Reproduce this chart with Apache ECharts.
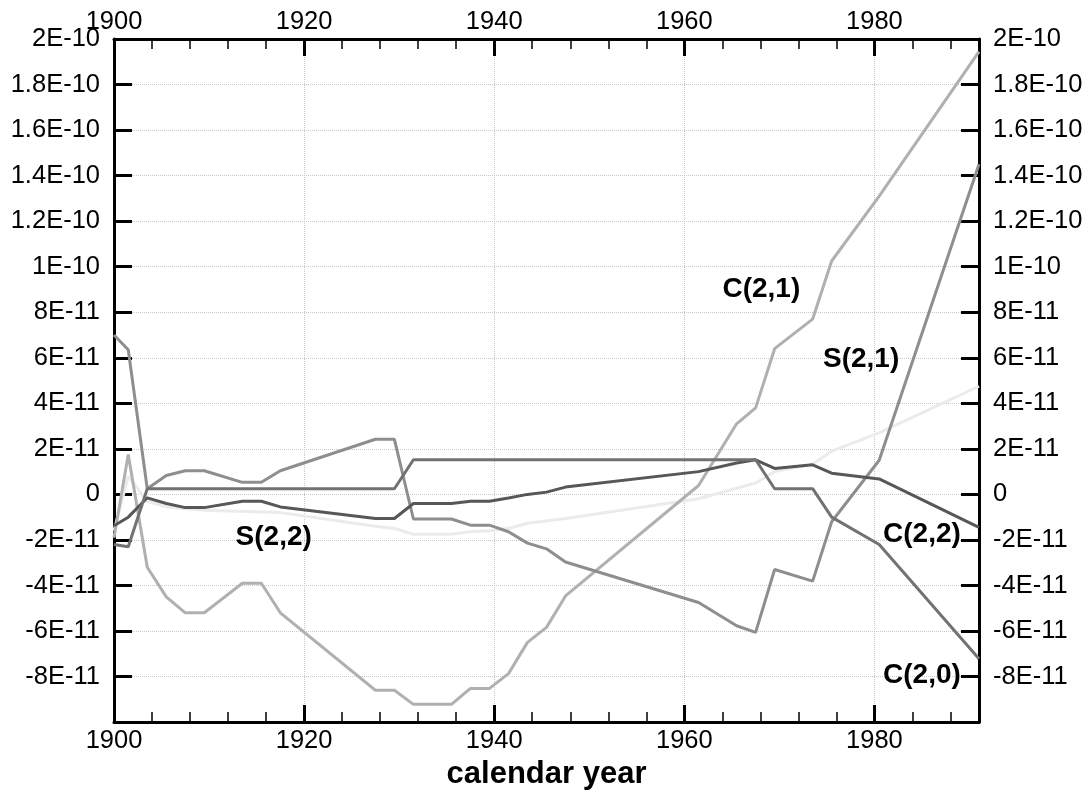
<!DOCTYPE html>
<html><head><meta charset="utf-8">
<script src="https://cdn.jsdelivr.net/npm/echarts@6/dist/echarts.min.js"></script>
<style>html,body{margin:0;padding:0;background:#fff}#c{width:1091px;height:795px}</style>
</head><body><div id="c"></div>
<script>
// All values are in units of 1E-11
const c20Years  = [1900, 1901.5, 1903.5, 1929.5, 1931.5, 1967.5, 1969.5, 1973.5, 1975.5, 1980.5, 1991];
const c20Values = [-2.2, -2.3, 0.25, 0.25, 1.52, 1.52, 0.25, 0.25, -1.0, -2.2, -7.22];

const c21Years  = [1900, 1901.5, 1903.5, 1905.5, 1907.5, 1909.5, 1913.5, 1915.5, 1917.5, 1927.5, 1929.5, 1931.5, 1935.5, 1937.5, 1939.5, 1941.5, 1943.5, 1945.5, 1947.5, 1961.5, 1965.5, 1967.5, 1969.5, 1973.5, 1975.5, 1980.5, 1991];
const c21Values = [-1.9, 1.75, -3.2, -4.5, -5.2, -5.2, -3.9, -3.9, -5.2, -8.6, -8.6, -9.22, -9.22, -8.52, -8.52, -7.87, -6.5, -5.84, -4.46, 0.39, 3.1, 3.8, 6.4, 7.7, 10.25, 13.1, 19.45];

const c22Years  = [1900, 1901.5, 1903.5, 1905.5, 1907.5, 1909.5, 1913.5, 1915.5, 1917.5, 1927.5, 1929.5, 1931.5, 1935.5, 1937.5, 1939.5, 1941.5, 1943.5, 1945.5, 1947.5, 1961.5, 1965.5, 1967.5, 1969.5, 1973.5, 1975.5, 1980.5, 1991];
const c22Values = [-1.38, -1.0, -0.15, -0.4, -0.58, -0.58, -0.3, -0.3, -0.55, -1.06, -1.06, -0.4, -0.4, -0.3, -0.3, -0.16, 0.0, 0.1, 0.32, 1.0, 1.38, 1.52, 1.14, 1.3, 0.93, 0.68, -1.45];

const s21Years  = [1900, 1901.5, 1903.5, 1905.5, 1907.5, 1909.5, 1913.5, 1915.5, 1917.5, 1927.5, 1929.5, 1931.5, 1935.5, 1937.5, 1939.5, 1941.5, 1943.5, 1945.5, 1947.5, 1961.5, 1965.5, 1967.5, 1969.5, 1973.5, 1975.5, 1980.5, 1991];
const s21Values = [7.0, 6.35, 0.25, 0.83, 1.04, 1.04, 0.53, 0.53, 1.04, 2.42, 2.42, -1.08, -1.08, -1.35, -1.35, -1.64, -2.14, -2.39, -2.97, -4.75, -5.77, -6.06, -3.3, -3.81, -1.2, 1.5, 14.5];

const s22Years  = [1900, 1901.5, 1903.5, 1905.5, 1909.5, 1917.5, 1927.5, 1929.5, 1931.5, 1935.5, 1937.5, 1939.5, 1941.5, 1943.5, 1947.5, 1961.5, 1967.5, 1969.5, 1973.5, 1975.5, 1980.5, 1991];
const s22Values = [-1.6, 0.8, -0.3, -0.55, -0.7, -0.8, -1.4, -1.5, -1.75, -1.75, -1.64, -1.6, -1.5, -1.27, -1.06, -0.19, 0.5, 1.0, 1.33, 1.9, 2.7, 4.75];

const seriesNames  = ['C(2,0)', 'C(2,1)', 'C(2,2)', 'S(2,1)', 'S(2,2)'];
const annotationNames  = ['C(2,1)', 'S(2,1)', 'C(2,2)', 'C(2,0)', 'S(2,2)'];
const annotationYears  = [1968.1, 1978.6, 1985.0, 1985.0, 1916.8];
const annotationValues = [9.0, 5.93, -1.74, -7.93, -1.89];

const xAxisTitle = 'calendar year';
const xMin = 1900, xMax = 1991, xStep = 20;
const yMin = -10, yMax = 20, yStep = 2;

function pairs(xs, ys) { return xs.map((x, i) => [x, ys[i]]); }
function yLabel(v) {
  if (Math.abs(v) < 1e-9) return '0';
  let m, e;
  if (Math.abs(v) >= 10) { m = v / 10; e = -10; } else { m = v; e = -11; }
  m = Math.round(m * 1000) / 1000;
  return m + 'E' + e;
}
function xLabel(v) { return String(Math.round(v)); }

const FONT = '"Liberation Sans", Arial, Helvetica, sans-serif';
const chart = echarts.init(document.getElementById('c'), null, { renderer: 'canvas' });

const xCommon = {
  type: 'value', min: xMin, max: xMax, interval: xStep,
  axisLine: { show: true, onZero: false, lineStyle: { color: '#000', width: 3 } },
  axisTick: { show: true, inside: true, length: 17, lineStyle: { color: '#000', width: 3 } },
  minorTick: { show: true, splitNumber: 5, length: 10, lineStyle: { color: '#000', width: 1.5 } },
  axisLabel: { show: true, color: '#000', fontSize: 25.5, fontFamily: FONT, showMaxLabel: false, margin: 6, formatter: xLabel },
  splitLine: { show: false }
};
const yCommon = {
  type: 'value', min: yMin, max: yMax, interval: yStep,
  axisLine: { show: true, onZero: false, lineStyle: { color: '#000', width: 3 } },
  axisTick: { show: true, inside: true, length: 18, lineStyle: { color: '#000', width: 3 } },
  axisLabel: { show: true, color: '#000', fontSize: 25.5, fontFamily: FONT, showMinLabel: false, margin: 14, formatter: yLabel },
  splitLine: { show: false }
};

const seriesColors = ['#727272', '#b0b0b0', '#575757', '#8e8e8e', '#ebebeb'];
const seriesData = [pairs(c20Years, c20Values), pairs(c21Years, c21Values), pairs(c22Years, c22Values), pairs(s21Years, s21Values), pairs(s22Years, s22Values)];
const zOrder = [3, 2, 4, 2, 1];

const series = seriesNames.map((n, i) => ({
  name: n, type: 'line', xAxisIndex: 0, yAxisIndex: 0,
  data: seriesData[i], showSymbol: false, symbol: 'none', z: zOrder[i],
  lineStyle: { color: seriesColors[i], width: 3 }, animation: false,
  emphasis: { disabled: true }
}));

// text annotations, anchored in data coordinates
series[0].markPoint = {
  silent: true, animation: false,
  symbol: 'circle', symbolSize: 0,
  itemStyle: { color: '#000', opacity: 1 },
  label: { show: true, position: 'inside', align: 'center', verticalAlign: 'middle', formatter: p => p.name,
    color: '#000', opacity: 1, textBorderWidth: 0, fontWeight: 'bold', fontSize: 28, fontFamily: FONT },
  data: annotationNames.map((t, i) => ({ name: t, coord: [annotationYears[i], annotationValues[i]] }))
};
series[0].z = 10;

chart.setOption({
  backgroundColor: '#fff',
  animation: false,
  grid: { left: 114, right: 112, top: 39, bottom: 67, containLabel: false, show: false },
  xAxis: [
    Object.assign({}, xCommon, {
      position: 'bottom',
      name: xAxisTitle, nameLocation: 'middle', nameGap: 34,
      nameTextStyle: { color: '#000', fontWeight: 'bold', fontSize: 31, fontFamily: FONT },
      splitLine: { show: true, lineStyle: { color: '#c8c8c8', type: 'dotted', width: 1 } }
    }),
    Object.assign({}, xCommon, { position: 'top', axisLabel: Object.assign({}, xCommon.axisLabel, { margin: 4 }) })
  ],
  yAxis: [
    Object.assign({}, yCommon, {
      position: 'left',
      splitLine: { show: true, lineStyle: { color: '#c8c8c8', type: 'dotted', width: 1 } }
    }),
    Object.assign({}, yCommon, { position: 'right' })
  ],
  series: series
});
</script></body></html>
